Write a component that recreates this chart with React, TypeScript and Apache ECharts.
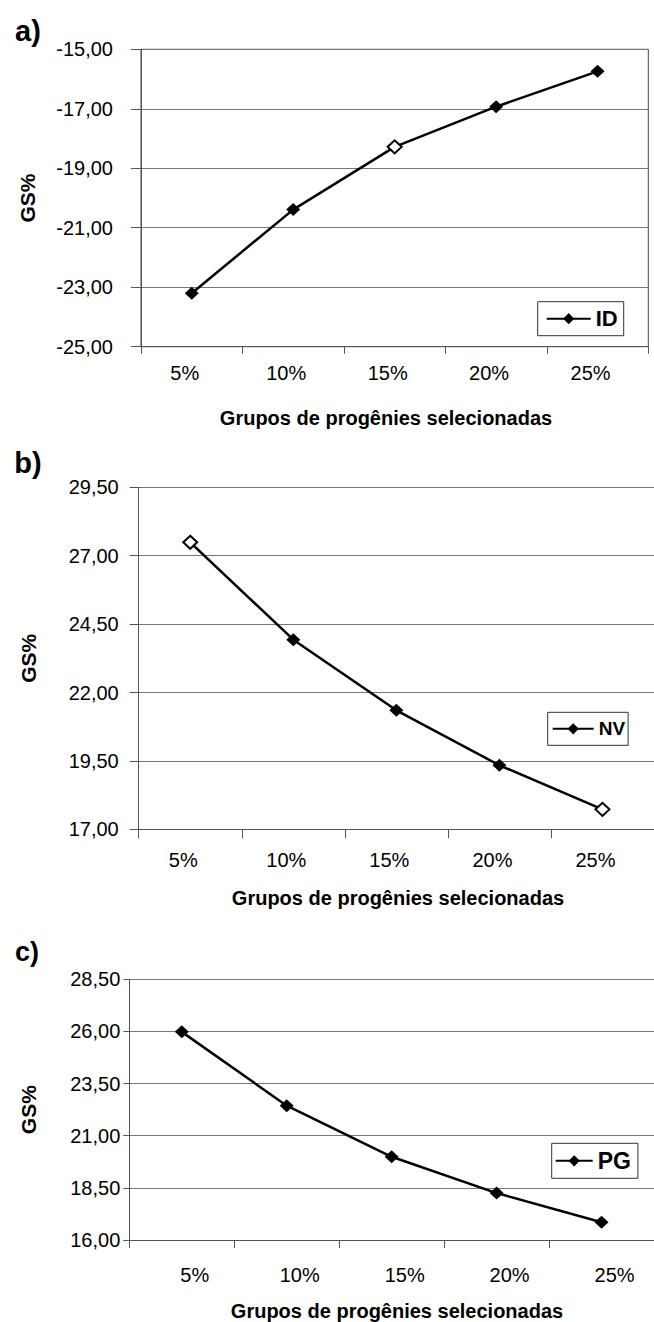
import React, { useEffect, useRef } from "react";
import * as echarts from "echarts";

const categories = ["5%", "10%", "15%", "20%", "25%"];

const idValues = [-23.2, -20.39, -18.28, -16.93, -15.74];
const nvValues = [27.49, 23.93, 21.35, 19.34, 17.73];
const pgValues = [25.98, 22.44, 19.99, 18.25, 16.85];

const idTicks = [-25, -23, -21, -19, -17, -15];
const nvTicks = [17, 19.5, 22, 24.5, 27, 29.5];
const pgTicks = [16, 18.5, 21, 23.5, 26, 28.5];

const seriesNames = ["ID", "NV", "PG"];
const panelLetters = ["a)", "b)", "c)"];
const yTitle = "GS%";
const xTitle = "Grupos de progênies selecionadas";

const FONT = "'Liberation Sans', Arial, Helvetica, sans-serif";

type Layout = {
  left: number; right: number; top: number; bottom: number;
  yLabelMargin: number; yTickLen: number; xTickLen: number; xLabelMargin: number;
  xLabelPadding: number[]; border: boolean;
  legend: { left: number; top: number; itemWidth: number; fontSize: number; padding: number[] };
  hollow: number[];
  letter: { x: number; y: number; size: number };
  yTitleX: number; xTitleX: number; xTitleY: number;
};

const layouts: Layout[] = [
  {
    left: 141, right: 5.7, top: 49.3, bottom: 1322 - 346.7,
    yLabelMargin: 28, yTickLen: 10, xTickLen: 7, xLabelMargin: 16,
    xLabelPadding: [0, 14, 0, 0], border: true,
    legend: { left: 537.7, top: 301.7, itemWidth: 44, fontSize: 22, padding: [6, 6, 6, 8] },
    hollow: [2],
    letter: { x: 28, y: 31, size: 29 },
    yTitleX: 27, xTitleX: 386, xTitleY: 418,
  },
  {
    left: 138.7, right: -4.7, top: 487.3, bottom: 1322 - 829.3,
    yLabelMargin: 20, yTickLen: 9, xTickLen: 9, xLabelMargin: 21,
    xLabelPadding: [0, 14, 0, 0], border: false,
    legend: { left: 547.7, top: 712.3, itemWidth: 41, fontSize: 19, padding: [7, 3, 7, 4] },
    hollow: [0, 4],
    letter: { x: 28, y: 463, size: 29 },
    yTitleX: 28, xTitleX: 398, xTitleY: 898,
  },
  {
    left: 129.3, right: -3.3, top: 979.3, bottom: 1322 - 1240,
    yLabelMargin: 9, yTickLen: 6, xTickLen: 8, xLabelMargin: 25,
    xLabelPadding: [0, 0, 0, 26], border: false,
    legend: { left: 551.7, top: 1143.3, itemWidth: 37, fontSize: 23, padding: [6, 7, 6, 3] },
    hollow: [],
    letter: { x: 27, y: 952, size: 27 },
    yTitleX: 28, xTitleX: 397, xTitleY: 1311,
  },
];

const valueSets = [idValues, nvValues, pgValues];
const tickSets = [idTicks, nvTicks, pgTicks];

function fmt(v: number) {
  return v.toFixed(2).replace(".", ",");
}

function buildOption() {
  const grid: any[] = [];
  const xAxis: any[] = [];
  const yAxis: any[] = [];
  const series: any[] = [];
  const legend: any[] = [];
  const graphic: any[] = [];

  layouts.forEach((L, i) => {
    const ticks = tickSets[i];
    const base = ticks[0];
    const span = ticks[ticks.length - 1] - base;
    const step = ticks[1] - ticks[0];
    grid.push({
      left: L.left, right: L.right, top: L.top, bottom: L.bottom,
      containLabel: false,
      show: L.border,
      borderColor: "#444",
      borderWidth: 1,
      backgroundColor: "transparent",
    });
    xAxis.push({
      type: "category",
      gridIndex: i,
      data: categories,
      boundaryGap: true,
      axisLine: { show: true, lineStyle: { color: "#555", width: 1 } },
      axisTick: { show: true, length: L.xTickLen, lineStyle: { color: "#555" } },
      axisLabel: {
        interval: 0,
        margin: L.xLabelMargin,
        color: "#000",
        fontSize: 20,
        fontFamily: FONT,
        padding: L.xLabelPadding,
      },
      splitLine: { show: false },
    });
    yAxis.push({
      type: "value",
      gridIndex: i,
      min: 0,
      max: span,
      interval: step,
      axisLine: { show: true, lineStyle: { color: "#555", width: 1 } },
      axisTick: { show: true, length: L.yTickLen, lineStyle: { color: "#555" } },
      axisLabel: {
        margin: L.yLabelMargin,
        color: "#000",
        fontSize: 20,
        fontFamily: FONT,
        formatter: (v: number) => fmt(v + base),
      },
      splitLine: { show: true, lineStyle: { color: "#777", width: 1 } },
    });
    series.push({
      type: "line",
      name: seriesNames[i],
      xAxisIndex: i,
      yAxisIndex: i,
      symbol: "diamond",
      symbolSize: [14, 13],
      showSymbol: true,
      lineStyle: { color: "#000", width: 2.5 },
      itemStyle: { color: "#000" },
      data: valueSets[i].map((v, j) =>
        L.hollow.includes(j)
          ? { value: v - base, itemStyle: { color: "#fff", borderColor: "#000", borderWidth: 2 } }
          : v - base
      ),
    });
    legend.push({
      data: [seriesNames[i]],
      left: L.legend.left,
      top: L.legend.top,
      orient: "horizontal",
      itemWidth: L.legend.itemWidth,
      itemHeight: 14,
      padding: L.legend.padding,
      borderColor: "#333",
      borderWidth: 1,
      backgroundColor: "#fff",
      selectedMode: false,
      textStyle: {
        color: "#000",
        fontSize: L.legend.fontSize,
        fontWeight: "bold",
        fontFamily: FONT,
      },
    });
    graphic.push({
      type: "text",
      x: L.letter.x,
      y: L.letter.y,
      style: {
        text: panelLetters[i],
        fill: "#000",
        font: `bold ${L.letter.size}px ${FONT}`,
        align: "center",
        verticalAlign: "middle",
      },
    });
    graphic.push({
      type: "text",
      x: L.yTitleX,
      y: (L.top + (1322 - L.bottom)) / 2,
      rotation: Math.PI / 2,
      style: {
        text: yTitle,
        fill: "#000",
        font: `bold 21px ${FONT}`,
        align: "center",
        verticalAlign: "middle",
      },
    });
    graphic.push({
      type: "text",
      x: L.xTitleX,
      y: L.xTitleY,
      style: {
        text: xTitle,
        fill: "#000",
        font: `bold 20px ${FONT}`,
        align: "center",
        verticalAlign: "middle",
      },
    });
  });

  return {
    animation: false,
    backgroundColor: "#fff",
    grid,
    xAxis,
    yAxis,
    series,
    legend,
    graphic,
  };
}

export default function App() {
  const ref = useRef<HTMLDivElement>(null);
  useEffect(() => {
    if (!ref.current) return;
    const chart = echarts.init(ref.current, undefined, { renderer: "svg" });
    chart.setOption(buildOption() as any);
    return () => chart.dispose();
  }, []);
  return (
    <div
      ref={ref}
      style={{ position: "absolute", left: 0, top: 0, width: 654, height: 1322, background: "#fff" }}
    />
  );
}
